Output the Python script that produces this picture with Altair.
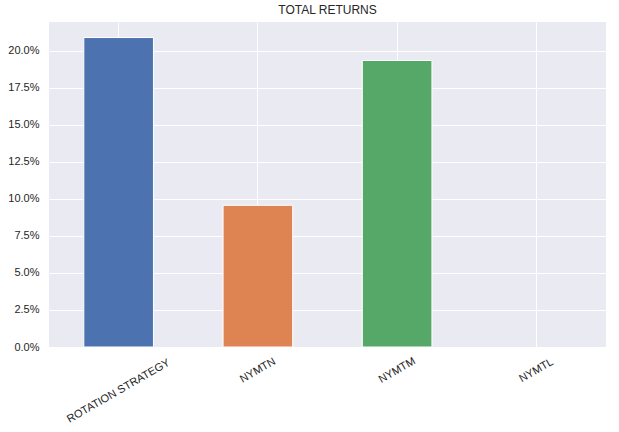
import altair as alt
import pandas as pd

categories = ["ROTATION STRATEGY", "NYMTN", "NYMTM", "NYMTL"]
total_returns = [0.209, 0.0957, 0.1935, 0.0]
palette = ["#4C72B0", "#DD8452", "#55A868", "#C44E52"]
y_ticks = [0.0, 0.025, 0.05, 0.075, 0.10, 0.125, 0.15, 0.175, 0.20]

df = pd.DataFrame({"cat": categories, "ret": total_returns})

W, H = 557, 325
FONT = "Liberation Sans"
TXT = "#262626"

x_enc = alt.X(
    "cat:N",
    sort=categories,
    title=None,
    scale=alt.Scale(paddingInner=0.5, paddingOuter=0.25),
    axis=alt.Axis(
        labels=False, ticks=False, domain=False, grid=True,
        gridColor="white", gridWidth=1, bandPosition=0.5,
    ),
)

bars = alt.Chart(df).mark_bar(stroke="white").encode(
    x=x_enc,
    y=alt.Y(
        "ret:Q",
        title=None,
        scale=alt.Scale(domain=[0, 0.2195], nice=False, zero=True),
        axis=alt.Axis(
            values=y_ticks, format=".1%", ticks=False, domain=False,
            grid=True, gridColor="white", gridWidth=1,
            labelFont=FONT, labelFontSize=11, labelColor=TXT, labelPadding=10,
        ),
    ),
    color=alt.Color("cat:N", sort=categories,
                    scale=alt.Scale(domain=categories, range=palette), legend=None),
    strokeWidth=alt.condition("datum.ret > 0", alt.value(1), alt.value(0)),
)

labels = alt.Chart(df).transform_calculate(
    ly=f"{H} + 15 + 1.72 * length(datum.cat)"
).mark_text(
    angle=330, align="center", baseline="middle",
    font=FONT, fontSize=11, color=TXT,
).encode(
    x=alt.X("cat:N", sort=categories, title=None,
            scale=alt.Scale(paddingInner=0.5, paddingOuter=0.25)),
    y=alt.Y("ly:Q", scale=None, axis=None),
    text="cat:N",
)

chart = alt.layer(bars, labels).resolve_scale(y="independent").properties(
    width=W,
    height=H,
    title=alt.TitleParams("TOTAL RETURNS", font=FONT, fontSize=12,
                          fontWeight="normal", color=TXT, offset=5),
    autosize=alt.AutoSizeParams(type="none"),
    padding={"left": 49, "top": 22, "right": 13, "bottom": 85},
    background="white",
).configure_view(fill="#EAEAF2", stroke=None)

chart.save("out.html", embed_options={"renderer": "svg", "actions": False})
